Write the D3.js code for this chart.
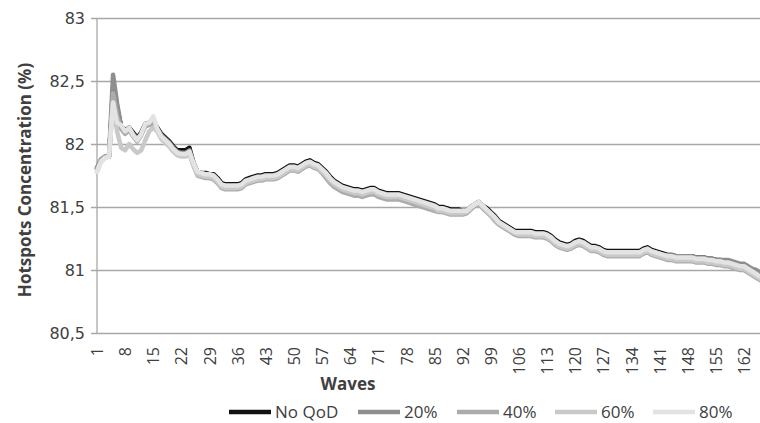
<!DOCTYPE html>
<html>
<head>
<meta charset="utf-8">
<script src="https://cdn.jsdelivr.net/npm/d3@7"></script>
<style>
    body { margin: 0; background: white; }
    text { font-family: "Open Sans", sans-serif; fill: #404040; }
</style>
</head>
<body>
<script>
//data, one value per wave (1..166)
var seriesNames = ["No QoD", "20%", "40%", "60%", "80%"];

var noQod = [81.81,81.87,81.90,81.90,82.45,82.29,82.14,82.11,82.13,82.09,82.05,82.09,82.16,82.17,82.18,82.13,82.08,82.05,82.02,81.98,
81.95,81.95,81.95,81.97,81.85,81.78,81.77,81.77,81.76,81.76,81.73,81.69,81.68,81.68,81.68,81.68,81.69,81.72,81.73,81.74,
81.75,81.75,81.76,81.76,81.76,81.77,81.79,81.81,81.83,81.83,81.82,81.84,81.86,81.87,81.85,81.84,81.81,81.78,81.74,81.71,
81.69,81.67,81.66,81.65,81.64,81.64,81.63,81.64,81.65,81.65,81.63,81.62,81.61,81.61,81.61,81.61,81.60,81.59,81.58,81.57,
81.56,81.55,81.54,81.53,81.52,81.50,81.50,81.49,81.48,81.48,81.48,81.47,81.47,81.50,81.52,81.54,81.51,81.49,81.46,81.43,
81.39,81.37,81.35,81.33,81.31,81.31,81.31,81.31,81.31,81.30,81.30,81.30,81.29,81.27,81.24,81.22,81.21,81.20,81.21,81.23,
81.24,81.23,81.21,81.19,81.19,81.18,81.16,81.15,81.15,81.15,81.15,81.15,81.15,81.15,81.15,81.15,81.17,81.18,81.16,81.15,
81.14,81.13,81.12,81.12,81.11,81.11,81.11,81.11,81.11,81.10,81.10,81.10,81.09,81.09,81.08,81.08,81.07,81.07,81.06,81.05,
81.04,81.04,81.02,81.00,80.99,80.97];

var qod20 = [81.81,81.88,81.90,81.91,82.55,82.32,82.14,82.10,82.12,82.08,82.04,82.08,82.15,82.16,82.17,82.12,82.07,82.04,82.01,81.97,
81.94,81.93,81.93,81.95,81.85,81.77,81.76,81.75,81.75,81.74,81.71,81.67,81.66,81.66,81.66,81.66,81.67,81.70,81.71,81.72,
81.73,81.73,81.74,81.74,81.74,81.75,81.77,81.79,81.81,81.81,81.80,81.82,81.84,81.85,81.83,81.82,81.79,81.75,81.71,81.68,
81.66,81.64,81.63,81.62,81.61,81.61,81.60,81.61,81.62,81.62,81.60,81.59,81.58,81.58,81.58,81.58,81.57,81.56,81.55,81.54,
81.53,81.52,81.51,81.50,81.49,81.48,81.48,81.47,81.46,81.46,81.46,81.46,81.47,81.49,81.52,81.54,81.51,81.48,81.45,81.41,
81.38,81.36,81.34,81.32,81.30,81.29,81.29,81.29,81.29,81.28,81.28,81.28,81.27,81.25,81.22,81.20,81.19,81.18,81.19,81.21,
81.22,81.21,81.19,81.17,81.17,81.16,81.14,81.13,81.13,81.13,81.13,81.13,81.13,81.13,81.13,81.13,81.15,81.16,81.15,81.14,
81.13,81.12,81.12,81.12,81.11,81.11,81.11,81.11,81.11,81.10,81.10,81.10,81.09,81.09,81.08,81.08,81.08,81.08,81.07,81.06,
81.05,81.05,81.03,81.01,81.00,80.98];

var qod40 = [81.80,81.87,81.90,81.90,82.40,82.22,82.12,82.08,82.11,82.06,82.02,82.07,82.14,82.15,82.16,82.11,82.05,82.02,81.99,81.95,
81.92,81.91,81.91,81.93,81.83,81.75,81.74,81.73,81.73,81.72,81.69,81.65,81.64,81.64,81.64,81.64,81.65,81.68,81.69,81.70,
81.71,81.71,81.72,81.72,81.72,81.73,81.75,81.77,81.79,81.79,81.78,81.80,81.82,81.83,81.81,81.80,81.77,81.73,81.69,81.66,
81.64,81.62,81.61,81.60,81.59,81.59,81.58,81.59,81.60,81.60,81.58,81.57,81.56,81.56,81.56,81.56,81.55,81.54,81.53,81.52,
81.51,81.50,81.49,81.48,81.47,81.46,81.46,81.45,81.44,81.44,81.44,81.44,81.45,81.48,81.51,81.53,81.49,81.46,81.43,81.39,
81.36,81.34,81.32,81.30,81.28,81.27,81.27,81.27,81.27,81.26,81.26,81.26,81.25,81.23,81.20,81.18,81.17,81.16,81.17,81.19,
81.20,81.19,81.17,81.15,81.15,81.14,81.12,81.11,81.11,81.11,81.11,81.11,81.11,81.11,81.11,81.11,81.13,81.14,81.12,81.11,
81.10,81.09,81.08,81.08,81.07,81.07,81.07,81.07,81.07,81.06,81.06,81.06,81.05,81.05,81.04,81.04,81.03,81.03,81.02,81.01,
81.00,81.00,80.98,80.96,80.94,80.92];

var qod60 = [81.78,81.86,81.89,81.90,82.33,82.10,81.97,81.95,82.00,81.96,81.93,81.95,82.03,82.10,82.13,82.10,82.04,82.01,81.98,81.94,
81.91,81.90,81.90,81.92,81.83,81.76,81.75,81.74,81.74,81.73,81.70,81.66,81.65,81.65,81.65,81.65,81.66,81.69,81.70,81.71,
81.72,81.72,81.73,81.73,81.73,81.74,81.76,81.78,81.80,81.80,81.79,81.81,81.83,81.84,81.82,81.81,81.78,81.75,81.71,81.68,
81.66,81.64,81.63,81.62,81.61,81.61,81.60,81.61,81.62,81.62,81.60,81.59,81.58,81.58,81.58,81.58,81.57,81.56,81.55,81.54,
81.53,81.52,81.51,81.50,81.49,81.47,81.47,81.46,81.45,81.45,81.45,81.45,81.46,81.49,81.52,81.54,81.50,81.47,81.44,81.40,
81.37,81.35,81.33,81.31,81.29,81.28,81.28,81.28,81.28,81.27,81.27,81.27,81.26,81.24,81.21,81.19,81.18,81.17,81.18,81.20,
81.21,81.20,81.18,81.16,81.16,81.15,81.13,81.12,81.12,81.12,81.12,81.12,81.12,81.12,81.12,81.12,81.14,81.15,81.13,81.12,
81.11,81.10,81.09,81.09,81.08,81.08,81.08,81.08,81.08,81.07,81.07,81.07,81.06,81.06,81.05,81.05,81.04,81.04,81.03,81.02,
81.01,81.01,80.99,80.97,80.95,80.93];

var qod80 = [81.78,81.86,81.89,81.90,82.33,82.17,82.15,82.10,82.13,82.07,82.03,82.08,82.16,82.17,82.22,82.12,82.06,82.03,82.00,81.96,
81.93,81.92,81.92,81.94,81.85,81.78,81.77,81.76,81.76,81.75,81.72,81.68,81.67,81.67,81.67,81.67,81.68,81.71,81.72,81.73,
81.74,81.74,81.75,81.75,81.75,81.76,81.78,81.80,81.82,81.82,81.81,81.83,81.85,81.86,81.84,81.83,81.80,81.77,81.73,81.70,
81.68,81.66,81.65,81.64,81.63,81.63,81.62,81.63,81.64,81.64,81.62,81.61,81.60,81.60,81.60,81.60,81.59,81.58,81.57,81.56,
81.55,81.54,81.53,81.52,81.51,81.49,81.49,81.48,81.47,81.47,81.47,81.47,81.47,81.50,81.52,81.54,81.51,81.48,81.45,81.42,
81.38,81.36,81.34,81.32,81.30,81.30,81.30,81.30,81.30,81.29,81.29,81.29,81.28,81.26,81.23,81.21,81.20,81.19,81.20,81.22,
81.23,81.22,81.20,81.18,81.18,81.17,81.15,81.14,81.14,81.14,81.14,81.14,81.14,81.14,81.14,81.14,81.16,81.17,81.15,81.14,
81.13,81.12,81.11,81.11,81.10,81.10,81.10,81.10,81.10,81.09,81.09,81.09,81.08,81.08,81.07,81.07,81.06,81.06,81.05,81.04,
81.03,81.03,81.01,80.99,80.97,80.95];

var yTicks = [80.5, 81, 81.5, 82, 82.5, 83];
var seriesColors = ["#111111", "#8e8e8e", "#acacac", "#c9c9c9", "#e3e3e3"];

var allSeries = [noQod, qod20, qod40, qod60, qod80];
var waves = d3.range(1, noQod.length + 1);

var width = 760;
var height = 423;
var plotLeft = 97;
var plotRight = 760;
var plotTop = 18;
var plotBottom = 333;

var svg = d3.select("body").append("svg")
    .attr("width", width)
    .attr("height", height);

//scales
var x = d3.scalePoint()
    .domain(waves)
    .range([plotLeft, plotRight]);

var y = d3.scaleLinear()
    .domain([80.5, 83])
    .range([plotBottom, plotTop]);

//horizontal gridlines with the small tick outside the axis
var yAxis = d3.axisLeft(y)
    .tickValues(yTicks)
    .tickSize(-(plotRight - plotLeft + 6))
    .tickPadding(12)
    .tickFormat(function(d){ return String(d).replace(".", ","); });

var yg = svg.append("g")
    .attr("transform", "translate(" + (plotLeft - 6) + ",0)")
    .call(yAxis);
yg.select(".domain").remove();
yg.selectAll(".tick line")
    .attr("stroke", "#a8a8a8")
    .attr("stroke-width", 1.3);
yg.selectAll(".tick text")
    .attr("x", -6)
    .style("font-family", "DejaVu Sans, sans-serif")
    .style("font-size", "16px")
    .attr("fill", "#404040");

//vertical axis line
svg.append("line")
    .attr("x1", plotLeft).attr("x2", plotLeft)
    .attr("y1", plotTop).attr("y2", plotBottom)
    .attr("stroke", "#a8a8a8")
    .attr("stroke-width", 1.3);

//x labels, every 7th wave, rotated
var xAxis = d3.axisBottom(x)
    .tickValues(waves.filter(function(d){ return (d - 1) % 7 == 0; }))
    .tickSize(0);

var xg = svg.append("g")
    .attr("transform", "translate(0," + plotBottom + ")")
    .call(xAxis);
xg.select(".domain").remove();
xg.selectAll(".tick text")
    .attr("transform", "rotate(-90)")
    .attr("x", -14)
    .attr("y", 0)
    .attr("dy", "0.35em")
    .style("text-anchor", "end")
    .style("font-family", "Open Sans, sans-serif")
    .style("font-size", "16px")
    .attr("fill", "#404040");

//lines, lightest on top
var line = d3.line()
    .x(function(d, i){ return x(waves[i]); })
    .y(function(d){ return y(d); });

svg.selectAll(".series")
    .data(allSeries)
    .enter()
    .append("path")
    .attr("class", "series")
    .attr("d", line)
    .attr("fill", "none")
    .attr("stroke", function(d, i){ return seriesColors[i]; })
    .attr("stroke-width", 4.5)
    .attr("stroke-linejoin", "round")
    .attr("stroke-linecap", "round");

//axis titles
svg.append("text")
    .attr("transform", "translate(31,180) rotate(-90)")
    .attr("text-anchor", "middle")
    .style("font-size", "17px")
    .style("font-weight", "bold")
    .text("Hotspots Concentration (%)");

svg.append("text")
    .attr("x", 348)
    .attr("y", 390)
    .attr("text-anchor", "middle")
    .style("font-size", "17px")
    .style("font-weight", "bold")
    .text("Waves");

//legend
var legendX = [229, 358, 457, 555, 653];
var legend = svg.selectAll(".legendItem")
    .data(seriesNames)
    .enter()
    .append("g")
    .attr("class", "legendItem")
    .attr("transform", function(d, i){ return "translate(" + legendX[i] + ",412)"; });

legend.append("line")
    .attr("x1", 0).attr("x2", 42)
    .attr("stroke", function(d, i){ return seriesColors[i]; })
    .attr("stroke-width", 4.5);

legend.append("text")
    .attr("x", 46)
    .attr("y", 6)
    .style("font-size", "17px")
    .text(function(d){ return d; });
</script>
</body>
</html>
